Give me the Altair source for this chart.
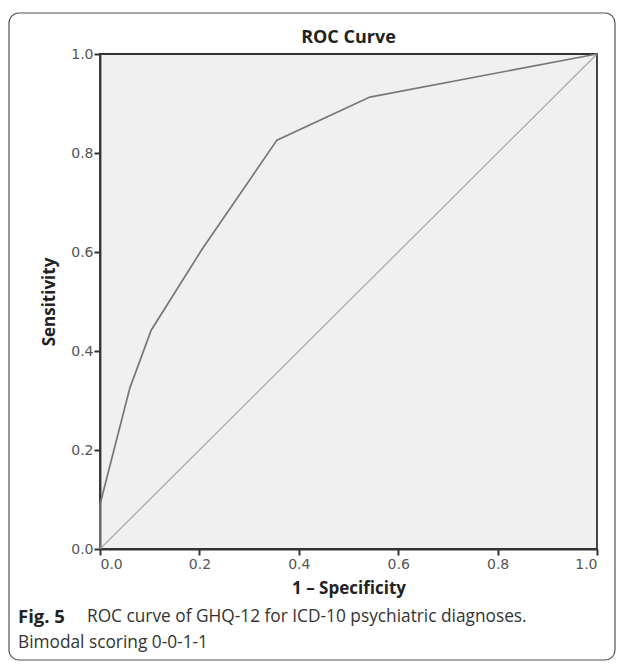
import altair as alt
import pandas as pd

# ROC curve points
fpr = [0.0, 0.0, 0.060, 0.103, 0.205, 0.356, 0.543, 1.0]
tpr = [0.0, 0.09, 0.325, 0.442, 0.605, 0.826, 0.913, 1.0]
diag_x = [0.0, 1.0]
diag_y = [0.0, 1.0]
ticks = [0.0, 0.2, 0.4, 0.6, 0.8, 1.0]

curve_df = pd.DataFrame({"fpr": fpr, "tpr": tpr, "order": list(range(len(fpr)))})
diag_df = pd.DataFrame({"fpr": diag_x, "tpr": diag_y})

W, H = 497, 495

xscale = alt.Scale(domain=[0, 1], nice=False)
yscale = alt.Scale(domain=[0, 1], nice=False)

common = dict(values=ticks, format=".1f", grid=False,
              labelFont="DejaVu Sans", labelFontSize=14, labelColor="#555",
              titleFont="Open Sans", titleFontSize=17, titleFontWeight="bold",
              titleColor="#222", tickSize=6, tickWidth=2,
              tickColor="#333", domainColor="#333", domainWidth=1.8)
xaxis = alt.Axis(title="1 – Specificity", titlePadding=9, labelPadding=2, **common)
yaxis = alt.Axis(title="Sensitivity", titlePadding=12, labelPadding=1, **common)

diag = alt.Chart(diag_df).mark_line(color="#aaaaaa", strokeWidth=1.3).encode(
    x=alt.X("fpr:Q", scale=xscale, axis=xaxis),
    y=alt.Y("tpr:Q", scale=yscale, axis=yaxis),
)

curve = alt.Chart(curve_df).mark_line(color="#777777", strokeWidth=1.7).encode(
    x=alt.X("fpr:Q", scale=xscale),
    y=alt.Y("tpr:Q", scale=yscale),
    order="order:Q",
)

border = alt.Chart(pd.DataFrame({"a": [0]})).mark_rect(
    fill=None, stroke="#555555", strokeWidth=1.2, cornerRadius=10, clip=False
).encode(x=alt.value(-91), x2=alt.value(515), y=alt.value(-41), y2=alt.value(606))

title = alt.Chart(pd.DataFrame({"t": ["ROC Curve"]})).mark_text(
    font="Open Sans", fontSize=18, fontWeight="bold", color="#222", align="center",
    baseline="middle"
).encode(text="t:N", x=alt.value(W / 2), y=alt.value(-16))

cap_bold = alt.Chart(pd.DataFrame({"t": ["Fig. 5"]})).mark_text(
    font="Open Sans", fontSize=18.5, fontWeight="bold", color="#222", align="left",
    baseline="middle"
).encode(text="t:N", x=alt.value(-82), y=alt.value(563))

cap1 = alt.Chart(pd.DataFrame({"t": ["ROC curve of GHQ-12 for ICD-10 psychiatric diagnoses."]})).mark_text(
    font="Open Sans", fontSize=17.3, color="#333", align="left", baseline="middle"
).encode(text="t:N", x=alt.value(-13), y=alt.value(563))

cap2 = alt.Chart(pd.DataFrame({"t": ["Bimodal scoring 0-0-1-1"]})).mark_text(
    font="Open Sans", fontSize=17.3, color="#333", align="left", baseline="middle"
).encode(text="t:N", x=alt.value(-82), y=alt.value(589))

chart = alt.layer(diag, curve, border, title, cap_bold, cap1, cap2).properties(
    width=W, height=H,
    autosize="none",
    background="white",
    padding={"left": 92, "top": 46, "right": 20, "bottom": 112},
).configure_view(
    fill="#f0f0f0", stroke="#333333", strokeWidth=1.8
)

chart.save("out.html", embed_options={"renderer": "svg", "actions": False})
